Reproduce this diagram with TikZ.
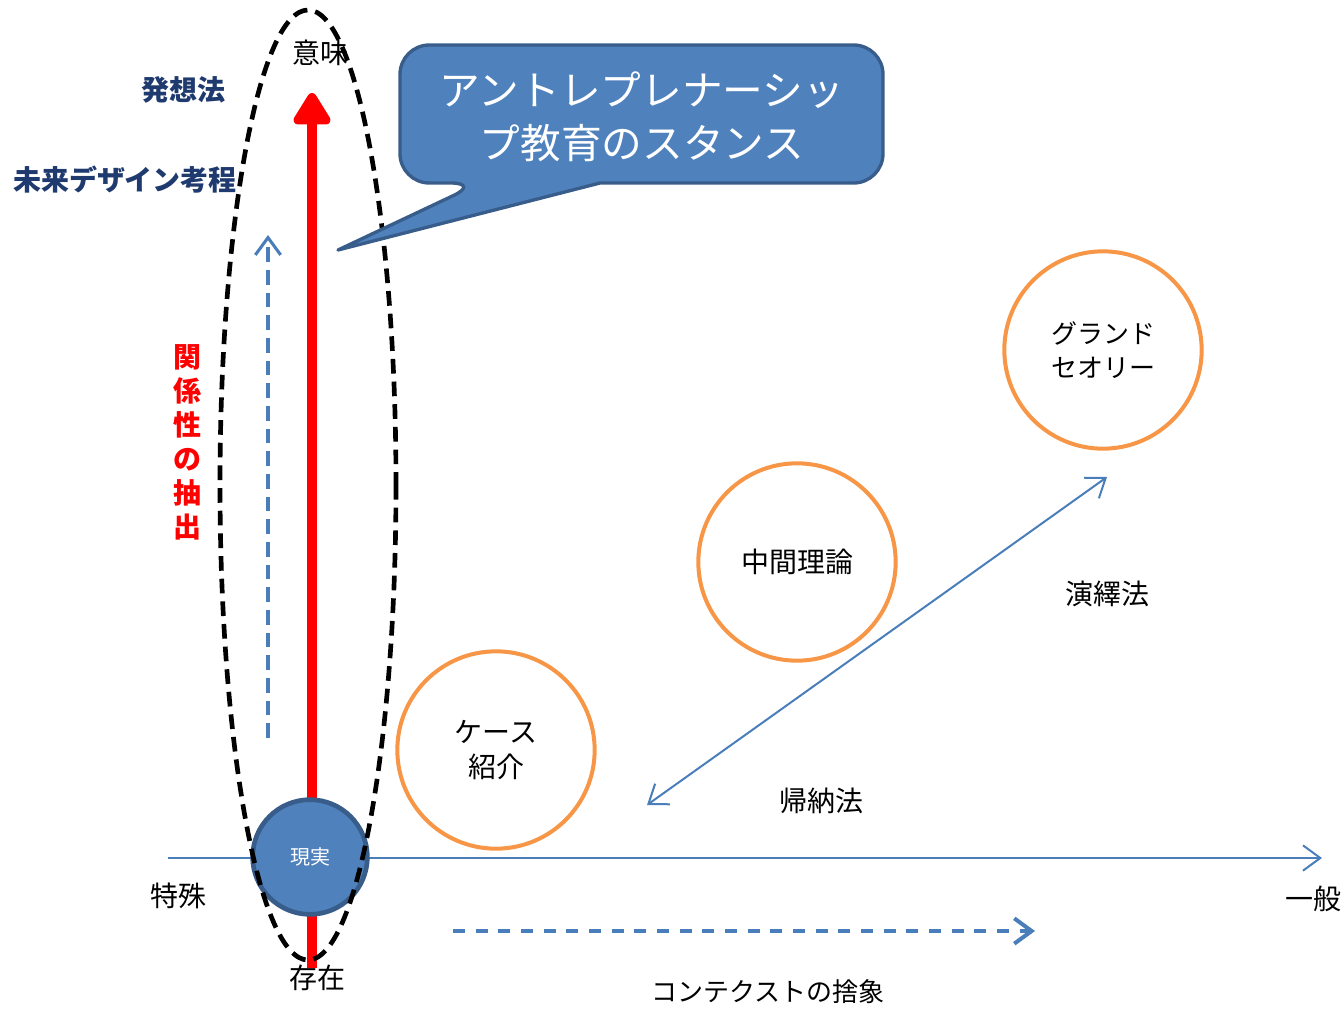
\documentclass[tikz,border=0pt]{standalone}
\usepackage{fontspec}
\newfontfamily\jp{Noto Sans CJK JP}
\usetikzlibrary{arrows.meta}
\definecolor{fillblue}{HTML}{4F81BD}
\definecolor{edgeblue}{HTML}{385D8A}
\definecolor{lineblue}{HTML}{4A7EBB}
\definecolor{circorange}{HTML}{F79646}
\definecolor{navy}{HTML}{1F3A6E}
\definecolor{pptred}{HTML}{FF0000}
\begin{document}
\begin{tikzpicture}[x=0.75pt,y=-0.75pt,
  txt/.style={font=\jp\fontsize{21}{26}\selectfont, inner sep=0pt, align=center},
  smalltxt/.style={font=\jp\fontsize{19.5}{26}\selectfont, inner sep=0pt, align=center},
  navytxt/.style={font=\jp\bfseries\fontsize{21}{26}\selectfont, text=navy, inner sep=0pt},
  orangecirc/.style={circle, draw=circorange, line width=3pt, minimum size=148pt, inner sep=0pt, align=center},
  openarrow/.style={-{Straight Barb[length=13pt,width=19pt]}, draw=lineblue},
  bluedash/.style={draw=lineblue, line width=2.3pt, dash pattern=on 11pt off 6pt}
]
\useasboundingbox (0,0) rectangle (1343,1008);

% horizontal axis
\coordinate (axL) at (168,858);
\coordinate (axR) at (1322,858);
\draw[openarrow, line width=1.5pt] (axL) -- (axR);

% red arrow
\coordinate (redB) at (312,968);
\coordinate (redT) at (312,93);
\draw[pptred, line width=7.5pt, -{Triangle[length=27pt,width=31pt,round]}] (redB) -- (redT);

% blue dashed vertical arrow
\coordinate (bdB) at (268,738);
\coordinate (bdT) at (268,235);
\draw[bluedash, -{Straight Barb[length=13pt,width=19pt]}] (bdB) -- (bdT);

% reality circle
\node[circle, fill=fillblue, draw=edgeblue, line width=3.5pt, minimum size=86pt, inner sep=0pt,
      text=white, font=\jp\fontsize{15}{18}\selectfont] (gen) at (310,857) {現実};

% dashed ellipse
\draw[black, line width=3.5pt, dash pattern=on 11pt off 6pt] (308,485) ellipse [x radius=88, y radius=475];

% callout
\path[fill=fillblue, draw=edgeblue, line width=2.5pt, line join=round]
  (338,250) -- (600,183) {[rounded corners=22] -- (883,183) -- (883,45) -- (400,45) -- (400,183) -- (480,183)} -- cycle;
\node[font=\jp\fontsize{30.5}{40}\selectfont, text=white, align=center, inner sep=0pt] (callout) at (642,117)
  {アントレプレナーシッ\\プ教育のスタンス};

% orange circles
\node[orangecirc, txt] (case) at (496,750) {ケース\\紹介};
\node[orangecirc, txt] (mid) at (797,562) {中間理論};
\node[orangecirc, smalltxt] (grand) at (1103,350) {グランド\\セオリー};

% diagonal double arrow
\coordinate (dgL) at (647,805);
\coordinate (dgR) at (1107,477);
\draw[lineblue, line width=1.5pt, {Straight Barb[length=13pt,width=19pt]}-{Straight Barb[length=13pt,width=19pt]}] (dgL) -- (dgR);

% dashed horizontal arrow
\coordinate (dhL) at (453,931);
\coordinate (dhR) at (1035,931);
\draw[draw=lineblue, line width=3pt, dash pattern=on 9pt off 8pt, -{Straight Barb[length=13pt,width=19pt]}] (dhL) -- (dhR);

% labels
\node[txt] (imi) at (320,53) {意味};
\node[txt] (sonzai) at (317,978) {存在};
\node[txt] (tokushu) at (178,896) {特殊};
\node[txt] (ippan) at (1313,899) {一般};
\node[smalltxt] (ctx) at (768,992) {コンテクストの捨象};
\node[txt] (kino) at (821,801) {帰納法};
\node[txt] (eneki) at (1107,594) {演繹法};
\node[navytxt] (hasso) at (183,90) {発想法};
\node[navytxt] (mirai) at (125,180) {未来デザイン考程};
\node[font=\jp\bfseries\fontsize{21}{25.5}\selectfont, text=pptred, align=center, inner sep=0pt] (kankei) at (187,442)
  {関\\係\\性\\の\\抽\\出};
\end{tikzpicture}
\end{document}
